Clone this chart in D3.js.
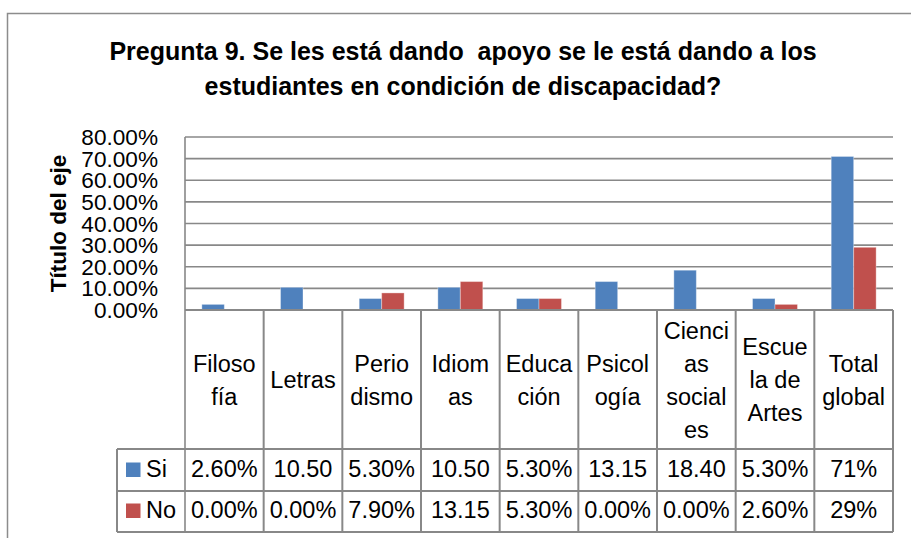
<!DOCTYPE html>
<html>
<head>
<meta charset="utf-8">
<script src="https://cdn.jsdelivr.net/npm/d3@7"></script>
<style>
  html, body { margin: 0; padding: 0; background: #fff; }
  svg { display: block; font-family: "Liberation Sans", Arial, sans-serif; }
</style>
</head>
<body>
<div id="chart"></div>
<script>
// Pregunta 9 – grouped bars (Si / No) with an Excel-style data table under the axis.
const categories = ['Filosofía', 'Letras', 'Periodismo', 'Idiomas', 'Educación',
  'Psicología', 'Ciencias sociales', 'Escuela de Artes', 'Total global'];
// category labels as they wrap inside the table header cells
const categoryLines = [['Filoso', 'fía'], ['Letras'], ['Perio', 'dismo'], ['Idiom', 'as'],
  ['Educa', 'ción'], ['Psicol', 'ogía'], ['Cienci', 'as', 'social', 'es'],
  ['Escue', 'la de', 'Artes'], ['Total', 'global']];
const seriesNames = ['Si', 'No'];
const siValues = [0.026, 0.105, 0.053, 0.105, 0.053, 0.1315, 0.184, 0.053, 0.71];
const noValues = [0, 0, 0.079, 0.1315, 0.053, 0, 0, 0.026, 0.29];
// the table prints the cells exactly like this
const siLabels = ['2.60%', '10.50', '5.30%', '10.50', '5.30%', '13.15', '18.40', '5.30%', '71%'];
const noLabels = ['0.00%', '0.00%', '7.90%', '13.15', '5.30%', '0.00%', '0.00%', '2.60%', '29%'];
const yTicks = [0, 0.1, 0.2, 0.3, 0.4, 0.5, 0.6, 0.7, 0.8];

const W = 911, H = 538;
const colors = { Si: '#4f81bd', No: '#c0504d' };
const lineColor = '#888888';
const plot = { left: 185, right: 893, top: 137, bottom: 310 };
const table = { left: 117, head: 449, row1: 491, row2: 532 };

const svg = d3.select('#chart').append('svg')
  .attr('width', W).attr('height', H).attr('viewBox', `0 0 ${W} ${H}`);

// chart frame (cut off at the right/bottom of the picture)
svg.append('path')
  .attr('d', `M7.5,${H} V13.5 H${W}`)
  .attr('fill', 'none').attr('stroke', '#8c8c8c').attr('stroke-width', 1.5);

// title
const title = svg.append('text')
  .attr('x', 463).attr('text-anchor', 'middle')
  .attr('font-size', 25).attr('font-weight', 700).attr('fill', '#000');
title.append('tspan').attr('x', 463).attr('y', 60)
  .attr('xml:space', 'preserve')
  .text('Pregunta 9. Se les está dando  apoyo se le está dando a los');
title.append('tspan').attr('x', 463).attr('y', 95)
  .text('estudiantes en condición de discapacidad?');

const x = d3.scaleBand().domain(categories).range([plot.left, plot.right]);
const xs = d3.scaleBand().domain(seriesNames).range([0, x.bandwidth()])
  .paddingInner(0).paddingOuter(0.75);
const y = d3.scaleLinear().domain([0, 0.8]).range([plot.bottom, plot.top]);

// gridlines
svg.append('g').selectAll('line').data(yTicks.slice(1)).join('line')
  .attr('x1', plot.left).attr('x2', plot.right)
  .attr('y1', d => y(d)).attr('y2', d => y(d))
  .attr('stroke', lineColor).attr('stroke-width', 1.6);

// value axis labels
svg.append('g').selectAll('text').data(yTicks).join('text')
  .attr('x', 158).attr('y', d => y(d) + 8)
  .attr('text-anchor', 'end').attr('font-size', 22.6).attr('fill', '#000')
  .text(d => d3.format('.2%')(d));

svg.append('text')
  .attr('transform', `translate(66,${(plot.top + plot.bottom) / 2}) rotate(-90)`)
  .attr('text-anchor', 'middle').attr('font-size', 22.5).attr('font-weight', 700)
  .text('Título del eje');

// bars
const rows = categories.map((c, i) => ({ c, Si: siValues[i], No: noValues[i] }));
const groups = svg.append('g').selectAll('g').data(rows).join('g')
  .attr('transform', d => `translate(${x(d.c)},0)`);
groups.selectAll('rect').data(d => seriesNames.map(s => ({ s, v: d[s] }))).join('rect')
  .attr('x', d => xs(d.s)).attr('width', xs.bandwidth())
  .attr('y', d => y(d.v)).attr('height', d => y(0) - y(d.v))
  .attr('fill', d => colors[d.s])
  .attr('stroke', d => d.v > 0 ? 'rgba(255,255,255,0.35)' : 'none')
  .attr('stroke-width', 1);

// plot-area left edge and category axis
svg.append('line')
  .attr('x1', plot.left).attr('x2', plot.left).attr('y1', plot.top).attr('y2', table.row2)
  .attr('stroke', lineColor).attr('stroke-width', 1.6);

// data table grid
const grid = svg.append('g').attr('stroke', lineColor).attr('stroke-width', 2);
grid.append('line').attr('x1', plot.left).attr('x2', plot.right)
  .attr('y1', plot.bottom).attr('y2', plot.bottom);
[table.head, table.row1, table.row2].forEach(yy => grid.append('line')
  .attr('x1', table.left).attr('x2', plot.right).attr('y1', yy).attr('y2', yy));
grid.append('line').attr('x1', table.left).attr('x2', table.left)
  .attr('y1', table.head).attr('y2', table.row2);
grid.selectAll('line.col').data(categories).join('line').attr('class', 'col')
  .attr('x1', d => x(d) + x.bandwidth()).attr('x2', d => x(d) + x.bandwidth())
  .attr('y1', plot.bottom).attr('y2', table.row2);

// header cells: wrapped category names, centred in the cell
const lineH = 33, headMid = 388;
const head = svg.append('g').attr('font-size', 23.5).attr('text-anchor', 'middle');
categories.forEach((c, i) => {
  const lines = categoryLines[i];
  const t = head.append('text');
  lines.forEach((ln, j) => t.append('tspan')
    .attr('x', x(c) + x.bandwidth() / 2)
    .attr('y', headMid + (j - (lines.length - 1) / 2) * lineH)
    .text(ln));
});

// value rows with legend keys
const rowBase = { Si: 477, No: 518 };
const rowLabels = { Si: siLabels, No: noLabels };
seriesNames.forEach(s => {
  svg.append('rect').attr('x', 126).attr('y', rowBase[s] - 14.5)
    .attr('width', 14.5).attr('height', 14.5).attr('fill', colors[s]);
  svg.append('text').attr('x', 146).attr('y', rowBase[s])
    .attr('font-size', 23.5).text(s);
  svg.append('g').selectAll('text').data(categories).join('text')
    .attr('x', d => x(d) + x.bandwidth() / 2).attr('y', rowBase[s])
    .attr('text-anchor', 'middle').attr('font-size', 23.5)
    .text((d, i) => rowLabels[s][i]);
});
</script>
</body>
</html>
